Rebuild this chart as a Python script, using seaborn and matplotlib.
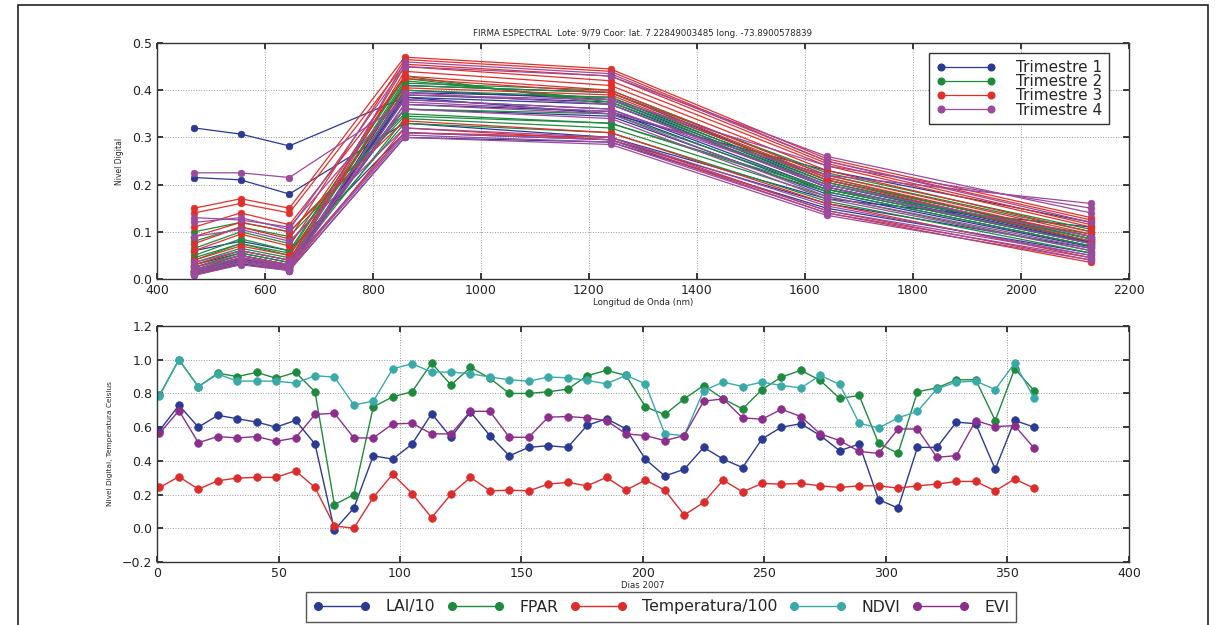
import numpy as np
import pandas as pd
import matplotlib
matplotlib.use("Agg")
import matplotlib.pyplot as plt
from matplotlib.lines import Line2D
from matplotlib.patches import Rectangle
import seaborn as sns

# ---------------------------------------------------------------
# Firma espectral: bandas MODIS (longitud de onda central, nm)
# ---------------------------------------------------------------
bandas_nm = [469, 555, 645, 858.5, 1240, 1640, 2130]

trimestre_1 = [
    [0.020, 0.045, 0.025, 0.395, 0.385, 0.205, 0.085],
    [0.015, 0.040, 0.022, 0.410, 0.395, 0.210, 0.090],
    [0.030, 0.055, 0.035, 0.380, 0.360, 0.190, 0.075],
    [0.010, 0.035, 0.020, 0.400, 0.380, 0.200, 0.080],
    [0.012, 0.038, 0.024, 0.390, 0.375, 0.195, 0.078],
    [0.018, 0.042, 0.026, 0.370, 0.355, 0.185, 0.070],
    [0.025, 0.050, 0.030, 0.360, 0.345, 0.180, 0.068],
    [0.014, 0.040, 0.025, 0.385, 0.370, 0.195, 0.076],
    [0.320, 0.307, 0.282, 0.385, 0.350, 0.230, 0.120],
    [0.215, 0.210, 0.180, 0.330, 0.300, 0.170, 0.110],
    [0.060, 0.080, 0.060, 0.310, 0.295, 0.160, 0.065],
    [0.008, 0.032, 0.018, 0.300, 0.290, 0.150, 0.055],
]
trimestre_2 = [
    [0.030, 0.060, 0.040, 0.420, 0.380, 0.210, 0.090],
    [0.040, 0.075, 0.055, 0.430, 0.370, 0.200, 0.085],
    [0.100, 0.120, 0.100, 0.350, 0.330, 0.190, 0.095],
    [0.050, 0.085, 0.060, 0.425, 0.375, 0.205, 0.080],
    [0.020, 0.050, 0.030, 0.340, 0.320, 0.175, 0.060],
    [0.065, 0.100, 0.075, 0.360, 0.350, 0.190, 0.075],
    [0.025, 0.055, 0.035, 0.415, 0.400, 0.220, 0.100],
    [0.035, 0.065, 0.045, 0.330, 0.310, 0.165, 0.055],
    [0.015, 0.045, 0.028, 0.400, 0.385, 0.215, 0.085],
    [0.080, 0.110, 0.090, 0.345, 0.330, 0.185, 0.070],
    [0.045, 0.075, 0.050, 0.410, 0.395, 0.225, 0.105],
]
trimestre_3 = [
    [0.150, 0.170, 0.150, 0.470, 0.445, 0.255, 0.130],
    [0.075, 0.110, 0.085, 0.465, 0.440, 0.250, 0.125],
    [0.140, 0.160, 0.140, 0.455, 0.430, 0.245, 0.115],
    [0.030, 0.060, 0.040, 0.450, 0.420, 0.240, 0.110],
    [0.020, 0.045, 0.030, 0.440, 0.410, 0.230, 0.100],
    [0.090, 0.120, 0.100, 0.335, 0.310, 0.160, 0.045],
    [0.060, 0.095, 0.070, 0.430, 0.400, 0.220, 0.095],
    [0.010, 0.035, 0.020, 0.320, 0.295, 0.140, 0.035],
    [0.110, 0.140, 0.115, 0.425, 0.395, 0.215, 0.090],
    [0.040, 0.070, 0.050, 0.405, 0.390, 0.210, 0.080],
    [0.025, 0.050, 0.030, 0.310, 0.300, 0.145, 0.040],
]
trimestre_4 = [
    [0.225, 0.225, 0.215, 0.375, 0.355, 0.220, 0.160],
    [0.130, 0.125, 0.110, 0.390, 0.380, 0.240, 0.150],
    [0.120, 0.130, 0.105, 0.450, 0.430, 0.260, 0.140],
    [0.020, 0.045, 0.025, 0.380, 0.360, 0.200, 0.090],
    [0.015, 0.040, 0.022, 0.460, 0.435, 0.250, 0.120],
    [0.010, 0.035, 0.020, 0.370, 0.350, 0.175, 0.065],
    [0.025, 0.050, 0.030, 0.395, 0.370, 0.195, 0.075],
    [0.090, 0.105, 0.080, 0.320, 0.300, 0.155, 0.050],
    [0.012, 0.040, 0.025, 0.305, 0.290, 0.140, 0.045],
    [0.035, 0.060, 0.040, 0.360, 0.340, 0.170, 0.060],
    [0.018, 0.045, 0.028, 0.310, 0.295, 0.145, 0.050],
    [0.008, 0.030, 0.018, 0.300, 0.285, 0.135, 0.040],
]
trimestres = ["Trimestre 1", "Trimestre 2", "Trimestre 3", "Trimestre 4"]

# ---------------------------------------------------------------
# Series temporales 2007 (compuestos de 8 dias)
# ---------------------------------------------------------------
dias = [1, 9, 17, 25, 33, 41, 49, 57, 65, 73, 81, 89, 97, 105, 113, 121,
        129, 137, 145, 153, 161, 169, 177, 185, 193, 201, 209, 217, 225,
        233, 241, 249, 257, 265, 273, 281, 289, 297, 305, 313, 321, 329,
        337, 345, 353, 361]
lai_10 = [0.58, 0.73, 0.60, 0.67, 0.65, 0.63, 0.60, 0.64, 0.50, -0.01, 0.12,
          0.43, 0.41, 0.50, 0.68, 0.54, 0.69, 0.55, 0.43, 0.48, 0.49, 0.48,
          0.61, 0.65, 0.59, 0.41, 0.31, 0.35, 0.48, 0.41, 0.36, 0.53, 0.60,
          0.62, 0.55, 0.46, 0.50, 0.17, 0.12, 0.48, 0.48, 0.63, 0.62, 0.35,
          0.64, 0.60]
fpar = [0.79, 1.00, 0.84, 0.92, 0.90, 0.925, 0.89, 0.925, 0.81, 0.14, 0.20,
        0.72, 0.78, 0.81, 0.98, 0.85, 0.955, 0.89, 0.80, 0.80, 0.81, 0.825,
        0.905, 0.937, 0.907, 0.72, 0.675, 0.768, 0.847, 0.768, 0.708, 0.823,
        0.897, 0.937, 0.877, 0.77, 0.788, 0.504, 0.444, 0.81, 0.833, 0.881,
        0.881, 0.639, 0.946, 0.817]
temp_100 = [0.242, 0.306, 0.232, 0.282, 0.298, 0.302, 0.302, 0.341, 0.242,
            0.014, 0.000, 0.183, 0.321, 0.206, 0.063, 0.202, 0.302, 0.222,
            0.226, 0.222, 0.262, 0.272, 0.252, 0.302, 0.226, 0.286, 0.226,
            0.079, 0.153, 0.286, 0.216, 0.266, 0.262, 0.266, 0.252, 0.242,
            0.252, 0.252, 0.238, 0.252, 0.262, 0.278, 0.278, 0.222, 0.292,
            0.238]
ndvi = [0.786, 1.000, 0.840, 0.915, 0.873, 0.873, 0.873, 0.861, 0.905, 0.897,
        0.732, 0.754, 0.946, 0.976, 0.927, 0.927, 0.917, 0.897, 0.881, 0.873,
        0.897, 0.893, 0.877, 0.857, 0.907, 0.857, 0.560, 0.550, 0.817, 0.867,
        0.841, 0.867, 0.847, 0.833, 0.907, 0.853, 0.623, 0.595, 0.655, 0.694,
        0.827, 0.867, 0.873, 0.823, 0.980, 0.774]
evi = [0.563, 0.698, 0.508, 0.544, 0.536, 0.544, 0.516, 0.536, 0.675, 0.683,
       0.536, 0.536, 0.619, 0.623, 0.560, 0.560, 0.694, 0.694, 0.540, 0.540,
       0.659, 0.663, 0.655, 0.639, 0.560, 0.550, 0.520, 0.550, 0.754, 0.768,
       0.655, 0.647, 0.706, 0.663, 0.560, 0.520, 0.456, 0.444, 0.589, 0.589,
       0.421, 0.431, 0.639, 0.603, 0.609, 0.476]
series = ["LAI/10", "FPAR", "Temperatura/100", "NDVI", "EVI"]

# ---------------------------------------------------------------
# Estilo
# ---------------------------------------------------------------
sns.set_theme(style="whitegrid")
plt.rcParams.update({
    "font.family": ["DejaVu Sans"],
    "axes.edgecolor": "#333333",
    "axes.linewidth": 1.0,
    "grid.color": "#999999",
    "grid.linestyle": ":",
    "grid.linewidth": 0.7,
    "xtick.direction": "in",
    "ytick.direction": "in",
    "xtick.top": True,
    "ytick.right": True,
    "xtick.bottom": True,
    "ytick.left": True,
    "xtick.major.size": 4,
    "ytick.major.size": 4,
    "xtick.color": "#222222",
    "ytick.color": "#222222",
    "xtick.labelsize": 9,
    "ytick.labelsize": 9,
})

col_trim = {"Trimestre 1": "#2b3a92", "Trimestre 2": "#1f8a3e",
            "Trimestre 3": "#e0302c", "Trimestre 4": "#9c4a9c"}
col_serie = {"LAI/10": "#2b3a92", "FPAR": "#1f8a3e",
             "Temperatura/100": "#dd2c2c", "NDVI": "#3aaaa8", "EVI": "#8c2f8c"}

# tabla larga para la firma espectral
filas = []
obs = 0
for nombre, bloque in zip(trimestres, [trimestre_1, trimestre_2, trimestre_3, trimestre_4]):
    for curva in bloque:
        for lon, val in zip(bandas_nm, curva):
            filas.append({"longitud": lon, "valor": val, "trimestre": nombre, "obs": obs})
        obs += 1
df_firma = pd.DataFrame(filas)

# tabla larga para las series temporales
df_series = pd.concat([
    pd.DataFrame({"dia": dias, "valor": v, "serie": s})
    for s, v in zip(series, [lai_10, fpar, temp_100, ndvi, evi])
], ignore_index=True)

fig = plt.figure(figsize=(12.27, 6.25), dpi=100)
ax1 = fig.add_axes([0.128, 0.5536, 0.792, 0.3776])
ax2 = fig.add_axes([0.128, 0.1008, 0.792, 0.3776])

# --- panel superior ---
sns.lineplot(data=df_firma, x="longitud", y="valor", hue="trimestre",
             hue_order=trimestres, units="obs", estimator=None, sort=False,
             palette=col_trim, marker="o", markersize=4.8, linewidth=0.9,
             legend=False, ax=ax1)
for ln in ax1.get_lines():
    ln.set_markeredgecolor(ln.get_color())
    ln.set_markeredgewidth(0.5)

ax1.set_xlim(400, 2200)
ax1.set_ylim(0, 0.5)
ax1.set_xticks(np.arange(400, 2201, 200))
ax1.set_yticks(np.arange(0, 0.51, 0.1))
ax1.set_title("FIRMA ESPECTRAL  Lote: 9/79 Coor: lat. 7.22849003485 long. -73.8900578839",
              fontsize=6.2, pad=5)
ax1.set_xlabel("Longitud de Onda (nm)", fontsize=6.2, labelpad=1)
ax1.set_ylabel("Nivel Digital", fontsize=5.5, labelpad=6)

h1 = [Line2D([], [], color=col_trim[t], marker="o", markersize=4.8,
             markeredgecolor=col_trim[t], linewidth=0.9) for t in trimestres]
leg1 = ax1.legend(h1, trimestres, loc="upper right",
                  bbox_to_anchor=(1 - 20 / 972, 1 - 10 / 236), borderaxespad=0,
                  fontsize=11, numpoints=2, labelspacing=-0.05, handlelength=3.9,
                  handletextpad=1.3, borderpad=0.45, fancybox=False,
                  framealpha=1, edgecolor="#333333")
leg1.get_frame().set_linewidth(1.0)

# --- panel inferior ---
sns.lineplot(data=df_series, x="dia", y="valor", hue="serie", hue_order=series,
             estimator=None, sort=False, palette=col_serie, marker="o",
             markersize=5.5, linewidth=1.0, legend=False, ax=ax2)
for ln in ax2.get_lines():
    ln.set_markeredgecolor(ln.get_color())
    ln.set_markeredgewidth(0.5)

ax2.set_xlim(0, 400)
ax2.set_ylim(-0.2, 1.2)
ax2.set_xticks(np.arange(0, 401, 50))
ax2.set_yticks(np.arange(-0.2, 1.21, 0.2))
ax2.set_xlabel("Dias 2007", fontsize=6.2, labelpad=1)
ax2.set_ylabel("Nivel Digital, Temperatura Celsius", fontsize=5.3, labelpad=6)

for ax in (ax1, ax2):
    ax.grid(True)
    for sp in ax.spines.values():
        sp.set_color("#333333")
        sp.set_linewidth(1.0)

h2 = [Line2D([], [], color=col_serie[s], marker="o", markersize=5.5,
             markeredgecolor=col_serie[s], linewidth=1.0) for s in series]
leg2 = fig.legend(h2, series, loc="center", bbox_to_anchor=(0.539, 0.0288),
                  ncol=5, fontsize=11.3, numpoints=2, handlelength=3.6,
                  handletextpad=1.0, columnspacing=0.75, borderpad=0.45,
                  fancybox=False, framealpha=1, edgecolor="#555555")
leg2.get_frame().set_linewidth(1.0)

# marco exterior de la figura
fig.patches.append(Rectangle((18 / 1227, -0.05), (1208 - 18) / 1227, 1.05 - 5 / 625,
                             transform=fig.transFigure, fill=False,
                             edgecolor="#222222", linewidth=1.2))

fig.savefig("out.png", dpi=100)
